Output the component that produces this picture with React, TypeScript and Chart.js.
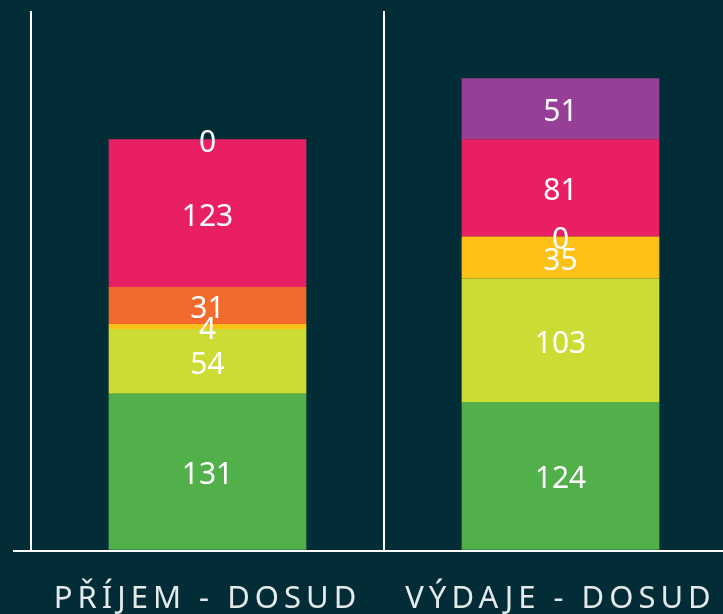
import React, { useEffect, useRef } from "react";
import { Chart, registerables } from "chart.js";

Chart.register(...registerables);

const categories = ["PŘÍJEM - DOSUD", "VÝDAJE - DOSUD"];
const seriesGreen = [131, 124];
const seriesLime = [54, 103];
const seriesAmber = [4, 35];
const seriesOrange = [31, 0];
const seriesPink = [123, 81];
const seriesPurple = [0, 51];
const yMax = 450;

const BG = "#022d36";

const letterSpacingPlugin = {
  id: "letterSpacingPlugin",
  beforeDraw(chart: any) {
    const ctx = chart.ctx as any;
    ctx.letterSpacing = "5px";
  },
  beforeDatasetsDraw(chart: any) {
    const ctx = chart.ctx as any;
    ctx.letterSpacing = "0px";
  },
};

const bgPlugin = {
  id: "bgPlugin",
  beforeDraw(chart: any) {
    const ctx = chart.ctx;
    ctx.save();
    ctx.fillStyle = BG;
    ctx.fillRect(0, 0, chart.width, chart.height);
    ctx.restore();
  },
};

const valueLabelPlugin = {
  id: "valueLabelPlugin",
  afterDatasetsDraw(chart: any) {
    const ctx = chart.ctx;
    ctx.save();
    ctx.letterSpacing = "0px";
    ctx.font = "400 30px 'Noto Sans'";
    ctx.fillStyle = "#ffffff";
    ctx.textAlign = "center";
    ctx.textBaseline = "middle";
    chart.data.datasets.forEach((ds: any, i: number) => {
      const meta = chart.getDatasetMeta(i);
      meta.data.forEach((bar: any, j: number) => {
        const v = ds.data[j];
        const props = bar.getProps(["x", "y", "base"], true);
        const cy = (props.y + props.base) / 2 + 4;
        ctx.fillText(String(v), props.x, cy);
      });
    });
    ctx.restore();
  },
};

export default function App() {
  const ref = useRef<HTMLCanvasElement | null>(null);

  useEffect(() => {
    if (!ref.current) return;
    const mk = (label: string, data: number[], color: string) => ({
      label,
      data,
      backgroundColor: color,
      borderWidth: 0,
      barPercentage: 0.56,
      categoryPercentage: 1,
    });
    const chart = new Chart(ref.current, {
      type: "bar",
      data: {
        labels: categories,
        datasets: [
          mk("A", seriesGreen, "#52b04b"),
          mk("B", seriesLime, "#cddc35"),
          mk("C", seriesAmber, "#fcc016"),
          mk("D", seriesOrange, "#f26a2c"),
          mk("E", seriesPink, "#e91f63"),
          mk("F", seriesPurple, "#973f97"),
        ],
      },
      options: {
        animation: false,
        responsive: false,
        maintainAspectRatio: false,
        layout: { padding: { left: 5, top: 3, right: 0, bottom: 0 } },
        plugins: {
          legend: { display: false },
          tooltip: { enabled: false },
          title: { display: false },
        },
        scales: {
          x: {
            stacked: true,
            grid: {
              display: true,
              offset: true,
              color: "#ffffff",
              lineWidth: 2,
              drawTicks: false,
            },
            border: { display: false },
            ticks: {
              color: "#e4eaeb",
              font: { family: "'Noto Sans'", size: 31, weight: 400 },
              padding: 30,
              maxRotation: 0,
              autoSkip: false,
            },
          },
          y: {
            stacked: true,
            min: 0,
            max: yMax,
            grid: {
              color: (c: any) => (c.tick && c.tick.value === 0 ? "#ffffff" : "rgba(0,0,0,0)"),
              lineWidth: 2,
              drawTicks: true,
              tickLength: 18,
            },
            border: { display: false },
            ticks: { display: false },
          },
        },
      },
      plugins: [bgPlugin, letterSpacingPlugin, valueLabelPlugin],
    });
    return () => chart.destroy();
  }, []);

  return (
    <div
      style={{
        position: "absolute",
        left: 0,
        top: 0,
        width: 723,
        height: 614,
        overflow: "hidden",
        background: BG,
      }}
    >
      <canvas
        ref={ref}
        width={729}
        height={640}
        style={{ position: "absolute", left: 8, top: 8, width: 729, height: 640 }}
      />
    </div>
  );
}
